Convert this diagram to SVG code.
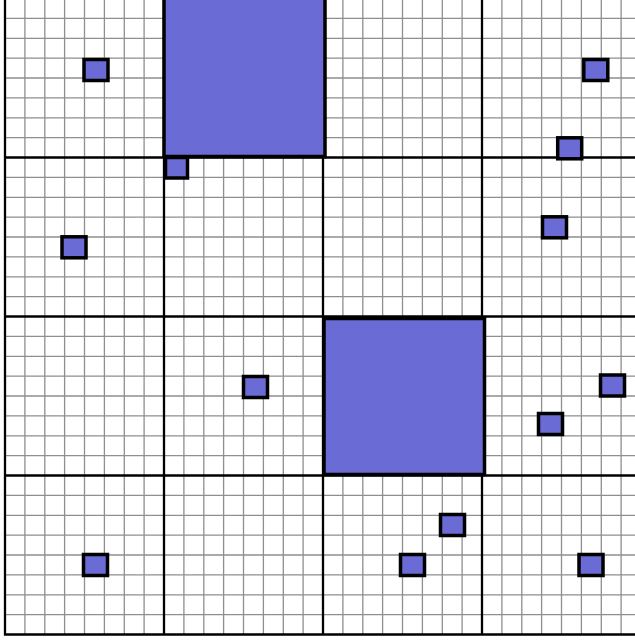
<svg xmlns="http://www.w3.org/2000/svg" width="635" height="640" viewBox="0 0 635 640">
<style>
.minor{stroke:#8f8f8f;stroke-width:1.3;fill:none}
.major{stroke:#000;stroke-width:2.3;fill:none}
.sq{fill:#6b6bd6;stroke:#000;stroke-width:3.5}
.big{fill:#6b6bd6;stroke:#000;stroke-width:3.5}
</style>
<rect x="0" y="0" width="635" height="640" fill="#fff"/>
<g id="grid">
<path class="minor" d="M24.9 -2V635M44.8 -2V635M64.6 -2V635M84.5 -2V635M104.4 -2V635M124.3 -2V635M144.1 -2V635M183.9 -2V635M203.8 -2V635M223.6 -2V635M243.5 -2V635M263.4 -2V635M283.3 -2V635M303.1 -2V635M342.9 -2V635M362.8 -2V635M382.6 -2V635M402.5 -2V635M422.4 -2V635M442.3 -2V635M462.1 -2V635M501.9 -2V635M521.8 -2V635M541.6 -2V635M561.5 -2V635M581.4 -2V635M601.3 -2V635M621.1 -2V635"/>
<path class="minor" d="M5 18.4H641M5 38.3H641M5 58.1H641M5 78H641M5 97.9H641M5 117.8H641M5 137.6H641M5 177.4H641M5 197.3H641M5 217.1H641M5 237H641M5 256.9H641M5 276.8H641M5 296.6H641M5 336.4H641M5 356.3H641M5 376.1H641M5 396H641M5 415.9H641M5 435.8H641M5 455.6H641M5 495.4H641M5 515.3H641M5 535.1H641M5 555H641M5 574.9H641M5 594.8H641M5 614.6H641"/>
<path class="major" d="M5 -2V635.5M164 -2V635.5M323 -2V635.5M482 -2V635.5M4 157.5H641M4 316.5H641M4 475.5H641M4 634.5H641"/>
</g>
<g id="big1"><rect class="big" x="164" y="-3" width="161" height="159.5"/></g>
<g id="big2"><rect class="big" x="324" y="318.5" width="160.5" height="156"/></g>
<g id="s1"><rect class="sq" x="84" y="59.5" width="24" height="21"/></g>
<g id="s2"><rect class="sq" x="583.8" y="59.5" width="24" height="21"/></g>
<g id="s3"><rect class="sq" x="557.7" y="137.8" width="24" height="21"/></g>
<g id="s4"><rect class="sq" x="165.5" y="157.5" width="22" height="20.5"/></g>
<g id="s5"><rect class="sq" x="62" y="236.8" width="24" height="21"/></g>
<g id="s6"><rect class="sq" x="542.5" y="216.8" width="24" height="21"/></g>
<g id="s7"><rect class="sq" x="243.5" y="376.5" width="24" height="21"/></g>
<g id="s8"><rect class="sq" x="600.5" y="375" width="24" height="21"/></g>
<g id="s9"><rect class="sq" x="538.5" y="413.5" width="24" height="21"/></g>
<g id="s10"><rect class="sq" x="440.5" y="514.5" width="24" height="21"/></g>
<g id="s11"><rect class="sq" x="400.5" y="554.5" width="24" height="21"/></g>
<g id="s12"><rect class="sq" x="83.5" y="554.5" width="24" height="21"/></g>
<g id="s13"><rect class="sq" x="579" y="554.5" width="24" height="21"/></g>
</svg>
